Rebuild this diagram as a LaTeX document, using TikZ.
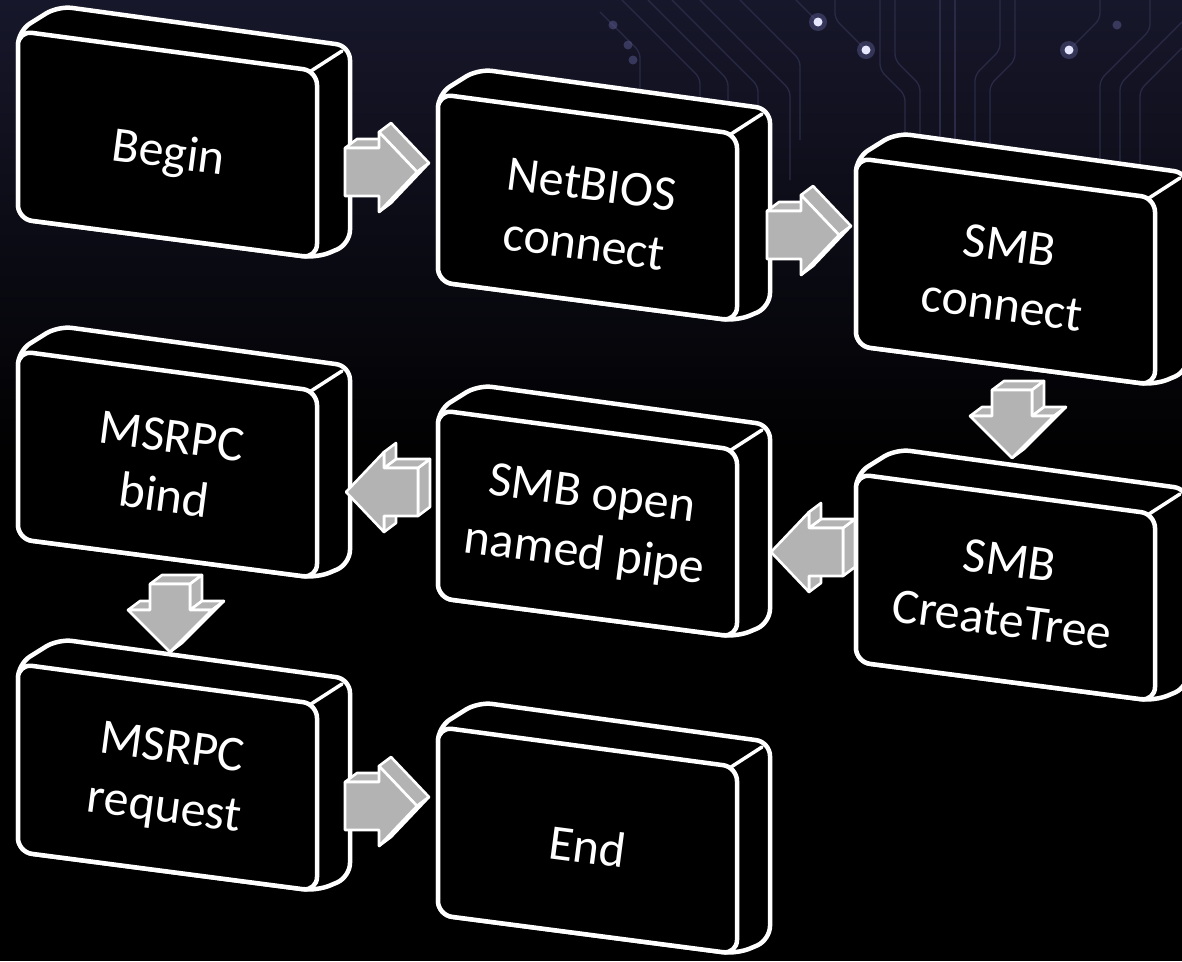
\documentclass[tikz,border=0pt]{standalone}
\usepackage{fontspec}
\setmainfont{Carlito}
\usetikzlibrary{calc}
\definecolor{arrowgray}{HTML}{B3B3B3}
\definecolor{bgtop}{HTML}{17172B}
\definecolor{tracecol}{HTML}{2A2A46}
\definecolor{dotglow}{HTML}{5C5C94}
\definecolor{dotcore}{HTML}{E6E6FF}

\newcommand\stepcube[5]{% name, dx, dy, label y, text
  \begin{scope}[shift={(#2,#3)}]
    \draw[boxline] (18,31) -- (58,6) -- (350,46) -- (350,244) -- (317,258) -- (18,219) -- cycle;
    \draw[edgeline] (311,71) -- (342,51);
    \draw[boxline] (18,31) -- (317,71) -- (317,258) -- (18,219) -- cycle;
    \node[boxlabel] (#1) at (168,#4) {#5};
  \end{scope}}

\newcommand\rightblock[2]{%
  \begin{scope}[shift={(#1,#2)}]
    \draw[arrowface] (0,-24) -- (34,-24) -- (46,-33) -- (12,-33) -- cycle;
    \draw[arrowface] (34,-40) -- (72,0) -- (84,-9) -- (46,-49) -- cycle;
    \draw[arrowface] (72,0) -- (34,40) -- (46,31) -- (84,-9) -- cycle;
    \draw[arrowface] (0,-24) -- (34,-24) -- (34,-40) -- (72,0) -- (34,40) -- (34,24) -- (0,24) -- cycle;
  \end{scope}}

\newcommand\downblock[2]{%
  \begin{scope}[shift={(#1,#2)}]
    \draw[arrowface] (-20,0) -- (20,0) -- (32,-9) -- (-8,-9) -- cycle;
    \draw[arrowface] (20,0) -- (20,26) -- (32,17) -- (32,-9) -- cycle;
    \draw[arrowface] (20,26) -- (42,26) -- (54,17) -- (32,17) -- cycle;
    \draw[arrowface] (-42,26) -- (-20,26) -- (-8,17) -- (-30,17) -- cycle;
    \draw[arrowface] (42,26) -- (0,68) -- (12,59) -- (54,17) -- cycle;
    \draw[arrowface] (-20,0) -- (20,0) -- (20,26) -- (42,26) -- (0,68) -- (-42,26) -- (-20,26) -- cycle;
  \end{scope}}

\newcommand\leftblock[2]{%
  \begin{scope}[shift={(#1,#2)}]
    \draw[arrowface] (0,-24) -- (0,24) -- (12,15) -- (12,-33) -- cycle;
    \draw[arrowface] (0,-24) -- (-34,-24) -- (-22,-33) -- (12,-33) -- cycle;
    \draw[arrowface] (-34,-24) -- (-34,-40) -- (-22,-49) -- (-22,-33) -- cycle;
    \draw[arrowface] (-34,24) -- (-34,40) -- (-22,31) -- (-22,15) -- cycle;
    \draw[arrowface] (0,-24) -- (-34,-24) -- (-34,-40) -- (-72,0) -- (-34,40) -- (-34,24) -- (0,24) -- cycle;
  \end{scope}}

\begin{document}
\begin{tikzpicture}[x=1pt,y=-1pt,
  boxline/.style={draw=white, line width=4.5pt, fill=black, rounded corners=14pt, line join=round},
  edgeline/.style={draw=white, line width=3.5pt, line cap=round},
  arrowface/.style={draw=white, line width=2.6pt, fill=arrowgray, line join=round},
  boxlabel/.style={text=white, font=\fontsize{50}{60}\selectfont, align=center, rotate=-7.5, inner sep=0pt},
  circuit/.style={draw=tracecol, line width=1.3pt, rounded corners=6pt}]
\useasboundingbox (0,0) rectangle (1182,961);
\clip (0,0) rectangle (1182,961);
% background
\fill[black] (0,0) rectangle (1182,961);
\shade[top color=bgtop, bottom color=black] (0,0) rectangle (1182,470);
% circuit traces
\draw[circuit] (600,12) -- (640,52) -- (640,130);
\draw[circuit] (622,0) -- (700,78) -- (700,150);
\draw[circuit] (648,0) -- (728,80) -- (728,160);
\draw[circuit] (672,0) -- (758,86) -- (758,170);
\draw[circuit] (700,0) -- (790,90) -- (790,180);
\draw[circuit] (740,0) -- (800,60) -- (800,140);
\draw[circuit] (866,50) -- (835,19) -- (835,0);
\draw[circuit] (818,22) -- (796,0);
\draw[circuit] (880,0) -- (880,70) -- (905,95) -- (905,180);
\draw[circuit] (895,0) -- (895,60) -- (920,85) -- (920,180);
\draw[circuit] (940,0) -- (940,180);
\draw[circuit] (955,0) -- (955,180);
\draw[circuit] (1000,0) -- (1000,50) -- (975,75) -- (975,170);
\draw[circuit] (1015,0) -- (1015,60) -- (990,85) -- (990,170);
\draw[circuit] (1069,50) -- (1100,19) -- (1100,0);
\draw[circuit] (1182,22) -- (1120,84) -- (1120,170);
\draw[circuit] (1182,48) -- (1140,90) -- (1140,175);
\draw[circuit] (1150,0) -- (1150,30) -- (1100,80) -- (1100,170);
% glowing dots
\foreach \px/\py in {866/50, 1069/50, 818/22}{
  \fill[dotglow, opacity=0.45] (\px,\py) circle (9);
  \fill[dotcore] (\px,\py) circle (4.5);
}
\foreach \px/\py in {613/25, 628/45, 633/60, 1117/25}{
  \fill[dotglow, opacity=0.5] (\px,\py) circle (4.5);
}
% boxes
\stepcube{begin}{0}{0}{155}{Begin}
\stepcube{netbios}{420}{63}{151}{NetBIOS\\connect}
\stepcube{smbconnect}{838}{127}{148}{SMB\\connect}
\stepcube{msrpcbind}{0}{320}{146}{MSRPC\\bind}
\stepcube{smbopen}{420}{379}{147}{SMB open\\named pipe}
\stepcube{createtree}{838}{443}{147}{SMB\\CreateTree}
\stepcube{msrpcreq}{0}{633}{147}{MSRPC\\request}
\stepcube{end}{420}{696}{150}{End}
% block arrows
\rightblock{345}{172}
\rightblock{767}{235}
\downblock{1012}{390}
\leftblock{843}{552}
\leftblock{418}{492}
\downblock{170}{584}
\rightblock{345}{806}
\end{tikzpicture}
\end{document}
